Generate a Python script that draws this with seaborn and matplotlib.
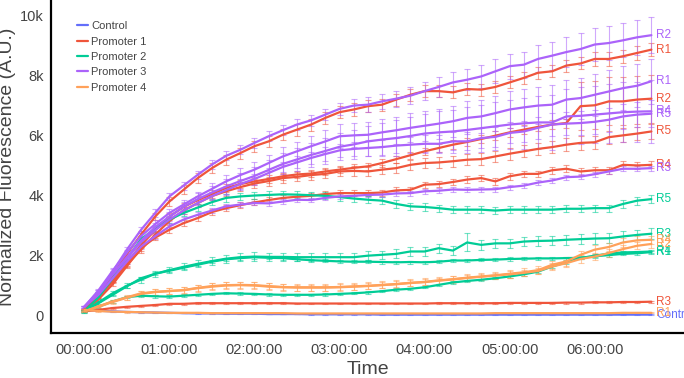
import matplotlib
matplotlib.use("Agg")
import matplotlib.pyplot as plt
import pandas as pd
import seaborn as sns

# sampling grid: one reading every 10 minutes, 0 to 6:40
minutes = list(range(0, 410, 10))
tick_minutes = [0, 60, 120, 180, 240, 300, 360]
tick_labels = ["00:00:00", "01:00:00", "02:00:00", "03:00:00",
               "04:00:00", "05:00:00", "06:00:00"]
y_ticks = [0, 2000, 4000, 6000, 8000, 10000]
y_tick_labels = ["0", "2k", "4k", "6k", "8k", "10k"]

groups = ["Control", "Promoter 1", "Promoter 2", "Promoter 3", "Promoter 4"]
colors = ["#636EFA", "#EF553B", "#00CC96", "#AB63FA", "#FFA15A"]

# mean fluorescence per replicate, in thousands (A.U.)
control = [0.20, 0.17, 0.15, 0.13, 0.12, 0.11, 0.10, 0.09, 0.08, 0.08,
           0.07, 0.07, 0.07, 0.06, 0.06, 0.06, 0.05, 0.05, 0.05, 0.05,
           0.05, 0.04, 0.04, 0.04, 0.04, 0.04, 0.04, 0.04, 0.04, 0.04,
           0.04, 0.04, 0.04, 0.04, 0.04, 0.04, 0.04, 0.04, 0.04, 0.04, 0.04]

p1_r1 = [0.20, 0.70, 1.35, 2.05, 2.70, 3.30, 3.80, 4.19, 4.58, 4.91,
         5.19, 5.41, 5.64, 5.80, 6.02, 6.19, 6.36, 6.58, 6.77, 6.86,
         6.97, 7.02, 7.19, 7.35, 7.47, 7.47, 7.43, 7.54, 7.52, 7.61,
         7.76, 7.91, 8.08, 8.13, 8.32, 8.39, 8.54, 8.54, 8.63, 8.74, 8.85]
p1_r2 = [0.20, 0.65, 1.20, 1.75, 2.35, 2.85, 3.30, 3.62, 3.85, 4.05,
         4.25, 4.38, 4.47, 4.55, 4.64, 4.70, 4.73, 4.80, 4.86, 4.92,
         4.97, 5.08, 5.21, 5.34, 5.47, 5.58, 5.69, 5.78, 5.88, 5.99,
         6.10, 6.19, 6.28, 6.36, 6.41, 6.97, 7.00, 7.13, 7.13, 7.19, 7.22]
p1_r3 = [0.15, 0.20, 0.26, 0.30, 0.33, 0.36, 0.40, 0.40, 0.42, 0.42,
         0.42, 0.42, 0.42, 0.42, 0.42, 0.41, 0.41, 0.41, 0.41, 0.41,
         0.41, 0.41, 0.41, 0.41, 0.41, 0.42, 0.42, 0.42, 0.42, 0.42,
         0.43, 0.43, 0.43, 0.43, 0.44, 0.44, 0.45, 0.45, 0.46, 0.46, 0.47]
p1_r4 = [0.15, 0.55, 1.05, 1.65, 2.25, 2.60, 2.86, 3.08, 3.25, 3.45,
         3.58, 3.68, 3.77, 3.85, 3.92, 3.96, 3.99, 4.05, 4.08, 4.08,
         4.08, 4.10, 4.17, 4.19, 4.36, 4.38, 4.45, 4.53, 4.58, 4.47,
         4.64, 4.72, 4.72, 4.84, 4.89, 4.80, 4.84, 4.84, 5.02, 5.00, 5.02]
p1_r5 = [0.20, 0.62, 1.15, 1.70, 2.20, 2.70, 3.15, 3.50, 3.75, 3.98,
         4.14, 4.28, 4.40, 4.48, 4.58, 4.62, 4.68, 4.72, 4.80, 4.82,
         4.80, 4.86, 4.91, 5.02, 5.08, 5.10, 5.14, 5.19, 5.21, 5.30,
         5.39, 5.47, 5.55, 5.61, 5.69, 5.75, 5.77, 5.94, 6.00, 6.06, 6.13]

p2_r1 = [0.15, 0.42, 0.70, 0.98, 1.25, 1.40, 1.50, 1.60, 1.70, 1.80,
         1.88, 1.92, 1.95, 1.93, 1.92, 1.88, 1.85, 1.83, 1.81, 1.80,
         1.80, 1.79, 1.78, 1.79, 1.78, 1.80, 1.84, 1.84, 1.86, 1.87,
         1.89, 1.90, 1.91, 1.91, 1.92, 1.93, 1.98, 2.02, 2.06, 2.08, 2.12]
p2_r3 = [0.15, 0.45, 0.75, 1.00, 1.20, 1.40, 1.52, 1.63, 1.73, 1.82,
         1.90, 1.95, 1.97, 1.96, 1.96, 1.95, 1.95, 1.95, 1.95, 1.95,
         2.00, 2.03, 2.06, 2.14, 2.14, 2.25, 2.17, 2.44, 2.36, 2.41,
         2.41, 2.47, 2.49, 2.50, 2.53, 2.55, 2.57, 2.58, 2.64, 2.69, 2.73]
p2_r4 = [0.15, 0.30, 0.48, 0.62, 0.67, 0.65, 0.64, 0.67, 0.70, 0.73,
         0.75, 0.74, 0.73, 0.71, 0.70, 0.70, 0.70, 0.71, 0.73, 0.75,
         0.78, 0.82, 0.87, 0.90, 0.95, 1.03, 1.11, 1.16, 1.20, 1.25,
         1.31, 1.38, 1.47, 1.64, 1.78, 1.92, 2.00, 2.07, 2.11, 2.12, 2.14]
p2_r5 = [0.15, 0.62, 1.25, 1.90, 2.55, 2.90, 3.20, 3.42, 3.60, 3.78,
         3.92, 3.97, 4.00, 4.02, 4.04, 4.03, 4.01, 3.99, 3.95, 3.90,
         3.86, 3.83, 3.72, 3.64, 3.62, 3.58, 3.53, 3.53, 3.53, 3.50,
         3.53, 3.53, 3.53, 3.53, 3.56, 3.56, 3.58, 3.58, 3.72, 3.83, 3.88]

p3_r1 = [0.30, 0.85, 1.50, 2.10, 2.65, 3.05, 3.42, 3.70, 3.97, 4.22,
         4.47, 4.68, 4.86, 5.08, 5.30, 5.47, 5.64, 5.80, 5.97, 6.00,
         6.02, 6.10, 6.17, 6.25, 6.32, 6.39, 6.47, 6.58, 6.63, 6.74,
         6.86, 6.93, 6.99, 7.02, 7.19, 7.24, 7.35, 7.46, 7.57, 7.65, 7.80]
p3_r2 = [0.30, 0.75, 1.48, 2.20, 2.86, 3.42, 3.97, 4.33, 4.69, 5.03,
         5.32, 5.52, 5.75, 5.97, 6.17, 6.36, 6.50, 6.69, 6.88, 6.99,
         7.02, 7.13, 7.22, 7.32, 7.47, 7.61, 7.76, 7.85, 7.96, 8.13,
         8.30, 8.35, 8.54, 8.65, 8.77, 8.87, 9.02, 9.07, 9.16, 9.26, 9.33]
p3_r3 = [0.30, 0.70, 1.25, 1.80, 2.30, 2.65, 2.97, 3.20, 3.36, 3.50,
         3.64, 3.70, 3.75, 3.74, 3.80, 3.86, 3.85, 3.92, 3.97, 3.99,
         4.02, 4.03, 4.07, 4.08, 4.14, 4.16, 4.20, 4.19, 4.20, 4.21,
         4.28, 4.33, 4.43, 4.50, 4.61, 4.63, 4.71, 4.80, 4.89, 4.89, 4.91]
p3_r4 = [0.30, 0.80, 1.40, 1.95, 2.50, 2.95, 3.30, 3.62, 3.88, 4.10,
         4.30, 4.48, 4.65, 4.85, 5.05, 5.20, 5.35, 5.48, 5.62, 5.70,
         5.80, 5.86, 5.91, 5.98, 6.06, 6.10, 6.13, 6.18, 6.24, 6.30,
         6.36, 6.40, 6.43, 6.43, 6.63, 6.65, 6.69, 6.73, 6.77, 6.79, 6.80]
p3_r5 = [0.30, 0.80, 1.38, 1.90, 2.45, 2.85, 3.20, 3.50, 3.75, 3.98,
         4.18, 4.38, 4.55, 4.75, 4.95, 5.10, 5.25, 5.38, 5.50, 5.55,
         5.58, 5.61, 5.66, 5.69, 5.72, 5.72, 5.80, 5.80, 5.91, 5.95,
         6.08, 6.13, 6.25, 6.36, 6.39, 6.41, 6.45, 6.52, 6.63, 6.69, 6.72]

p4_r1 = [0.20, 0.16, 0.14, 0.13, 0.12, 0.11, 0.10, 0.10, 0.10, 0.09,
         0.09, 0.09, 0.09, 0.09, 0.09, 0.08, 0.08, 0.08, 0.08, 0.08,
         0.08, 0.08, 0.08, 0.08, 0.08, 0.08, 0.08, 0.08, 0.08, 0.09,
         0.09, 0.09, 0.09, 0.09, 0.09, 0.09, 0.09, 0.09, 0.10, 0.10, 0.10]
p4_r2 = [0.15, 0.30, 0.46, 0.60, 0.73, 0.79, 0.82, 0.86, 0.93, 0.99,
         1.02, 1.03, 1.02, 0.99, 0.96, 0.94, 0.94, 0.94, 0.95, 0.97,
         0.99, 1.02, 1.05, 1.09, 1.12, 1.17, 1.21, 1.26, 1.30, 1.34,
         1.38, 1.43, 1.49, 1.64, 1.75, 1.89, 1.97, 2.09, 2.22, 2.33, 2.39]
p4_r4 = [0.15, 0.32, 0.48, 0.62, 0.75, 0.80, 0.83, 0.85, 0.92, 0.97,
         1.01, 1.02, 1.01, 0.97, 0.95, 0.95, 0.95, 0.95, 0.96, 0.98,
         1.00, 1.03, 1.06, 1.10, 1.13, 1.18, 1.22, 1.27, 1.31, 1.35,
         1.40, 1.45, 1.52, 1.70, 1.81, 2.03, 2.20, 2.29, 2.44, 2.51, 2.53]

# error bar half-lengths, in thousands
control_err = [0.01] * 41
p1_r1_err = [0.02, 0.05, 0.08, 0.10, 0.12, 0.13, 0.14, 0.15, 0.16, 0.17,
             0.17, 0.18, 0.18, 0.19, 0.19, 0.20, 0.20, 0.20, 0.20, 0.20,
             0.20, 0.20, 0.20, 0.20, 0.20, 0.20, 0.20, 0.20, 0.20, 0.20,
             0.20, 0.20, 0.20, 0.20, 0.20, 0.20, 0.22, 0.22, 0.22, 0.22, 0.22]
p1_r2_err = [0.02, 0.05, 0.07, 0.08, 0.10, 0.10, 0.12, 0.12, 0.12, 0.12,
             0.12, 0.12, 0.12, 0.12, 0.12, 0.12, 0.12, 0.12, 0.12, 0.12,
             0.12, 0.12, 0.12, 0.12, 0.12, 0.12, 0.14, 0.14, 0.14, 0.14,
             0.15, 0.15, 0.15, 0.15, 0.15, 0.80, 0.80, 0.80, 0.80, 0.80, 0.80]
p1_r3_err = [0.03] * 41
p1_r4_err = [0.02, 0.04, 0.06, 0.07, 0.08, 0.09, 0.10, 0.10, 0.10, 0.10,
             0.10, 0.10, 0.10, 0.10, 0.10, 0.10, 0.10, 0.10, 0.10, 0.10,
             0.10, 0.10, 0.10, 0.10, 0.10, 0.10, 0.10, 0.11, 0.11, 0.11,
             0.11, 0.11, 0.11, 0.11, 0.11, 0.12, 0.12, 0.12, 0.12, 0.12, 0.12]
p1_r5_err = [0.02, 0.05, 0.07, 0.09, 0.10, 0.11, 0.12, 0.12, 0.13, 0.13,
             0.14, 0.14, 0.14, 0.15, 0.15, 0.15, 0.15, 0.15, 0.16, 0.16,
             0.16, 0.16, 0.17, 0.17, 0.17, 0.18, 0.18, 0.18, 0.19, 0.19,
             0.20, 0.20, 0.20, 0.21, 0.21, 0.22, 0.22, 0.22, 0.23, 0.23, 0.24]
p2_r1_err = [0.05] * 41
p2_r3_err = [0.02, 0.05, 0.07, 0.08, 0.10, 0.10, 0.11, 0.12, 0.12, 0.13,
             0.13, 0.13, 0.14, 0.14, 0.14, 0.14, 0.14, 0.14, 0.14, 0.14,
             0.14, 0.14, 0.15, 0.15, 0.15, 0.15, 0.15, 0.30, 0.16, 0.16,
             0.16, 0.16, 0.16, 0.16, 0.16, 0.17, 0.17, 0.17, 0.17, 0.18, 0.18]
p2_r4_err = [0.04] * 41
p2_r5_err = [0.02, 0.05, 0.07, 0.08, 0.09, 0.10, 0.10, 0.11, 0.11, 0.11,
             0.12, 0.12, 0.12, 0.12, 0.12, 0.12, 0.12, 0.12, 0.12, 0.12,
             0.12, 0.12, 0.12, 0.12, 0.12, 0.12, 0.12, 0.12, 0.12, 0.12,
             0.12, 0.12, 0.12, 0.12, 0.12, 0.12, 0.12, 0.12, 0.13, 0.13, 0.13]
p3_r1_err = [0.03, 0.05, 0.08, 0.10, 0.12, 0.12, 0.14, 0.15, 0.15, 0.18,
             0.20, 0.22, 0.25, 0.28, 0.30, 0.32, 0.35, 0.38, 0.40, 0.40,
             0.42, 0.45, 0.45, 0.48, 0.50, 0.50, 0.52, 0.55, 0.55, 0.58,
             0.60, 0.62, 0.62, 0.65, 0.65, 0.68, 0.70, 0.70, 0.72, 0.72, 0.75]
p3_r2_err = [0.03, 0.05, 0.08, 0.10, 0.10, 0.12, 0.12, 0.13, 0.13, 0.14,
             0.15, 0.15, 0.16, 0.16, 0.17, 0.18, 0.18, 0.19, 0.20, 0.22,
             0.25, 0.26, 0.27, 0.28, 0.30, 0.32, 0.33, 0.35, 0.37, 0.40,
             0.42, 0.43, 0.45, 0.47, 0.50, 0.52, 0.55, 0.56, 0.57, 0.58, 0.60]
p3_r3_err = [0.02, 0.04, 0.05, 0.06, 0.07, 0.08, 0.08, 0.08, 0.08, 0.08,
             0.08, 0.08, 0.08, 0.08, 0.08, 0.08, 0.08, 0.08, 0.08, 0.08,
             0.08, 0.08, 0.08, 0.08, 0.08, 0.08, 0.08, 0.08, 0.08, 0.08,
             0.08, 0.08, 0.08, 0.08, 0.08, 0.08, 0.08, 0.08, 0.08, 0.08, 0.08]
p3_r4_err = [0.03, 0.05, 0.08, 0.10, 0.12, 0.14, 0.15, 0.17, 0.20, 0.22,
             0.25, 0.28, 0.30, 0.33, 0.35, 0.38, 0.40, 0.42, 0.45, 0.48,
             0.50, 0.55, 0.60, 0.62, 0.65, 0.70, 0.72, 0.75, 0.78, 0.80,
             0.82, 0.85, 0.88, 0.90, 0.92, 0.95, 0.95, 0.98, 1.00, 1.00, 1.05]
p3_r5_err = [0.03, 0.05, 0.07, 0.08, 0.10, 0.10, 0.12, 0.12, 0.13, 0.14,
             0.15, 0.16, 0.17, 0.18, 0.18, 0.20, 0.20, 0.22, 0.22, 0.24,
             0.25, 0.25, 0.26, 0.27, 0.28, 0.28, 0.30, 0.30, 0.32, 0.33,
             0.35, 0.35, 0.36, 0.37, 0.38, 0.40, 0.40, 0.40, 0.42, 0.42, 0.45]
p4_r1_err = [0.02] * 41
p4_r2_err = [0.02, 0.04, 0.06, 0.07, 0.08, 0.09, 0.10, 0.10, 0.10, 0.10,
             0.10, 0.10, 0.10, 0.10, 0.10, 0.10, 0.10, 0.10, 0.10, 0.10,
             0.10, 0.10, 0.10, 0.10, 0.10, 0.10, 0.10, 0.10, 0.10, 0.10,
             0.11, 0.11, 0.11, 0.11, 0.12, 0.12, 0.12, 0.12, 0.12, 0.12, 0.12]
p4_r4_err = [0.02, 0.04, 0.06, 0.08, 0.09, 0.10, 0.11, 0.11, 0.12, 0.12,
             0.12, 0.12, 0.12, 0.12, 0.12, 0.12, 0.12, 0.12, 0.12, 0.12,
             0.12, 0.12, 0.12, 0.12, 0.12, 0.12, 0.12, 0.12, 0.12, 0.12,
             0.13, 0.13, 0.13, 0.13, 0.14, 0.14, 0.14, 0.14, 0.14, 0.14, 0.14]

traces = [
    ("Control", "Control", control, control_err),
    ("Promoter 1", "R1", p1_r1, p1_r1_err),
    ("Promoter 1", "R2", p1_r2, p1_r2_err),
    ("Promoter 1", "R3", p1_r3, p1_r3_err),
    ("Promoter 1", "R4", p1_r4, p1_r4_err),
    ("Promoter 1", "R5", p1_r5, p1_r5_err),
    ("Promoter 2", "R1", p2_r1, p2_r1_err),
    ("Promoter 2", "R3", p2_r3, p2_r3_err),
    ("Promoter 2", "R4", p2_r4, p2_r4_err),
    ("Promoter 2", "R5", p2_r5, p2_r5_err),
    ("Promoter 3", "R1", p3_r1, p3_r1_err),
    ("Promoter 3", "R2", p3_r2, p3_r2_err),
    ("Promoter 3", "R3", p3_r3, p3_r3_err),
    ("Promoter 3", "R4", p3_r4, p3_r4_err),
    ("Promoter 3", "R5", p3_r5, p3_r5_err),
    ("Promoter 4", "R1", p4_r1, p4_r1_err),
    ("Promoter 4", "R2", p4_r2, p4_r2_err),
    ("Promoter 4", "R4", p4_r4, p4_r4_err),
]

rows = []
for group, rep, vals, errs in traces:
    for m, v, e in zip(minutes, vals, errs):
        rows.append({"minute": m, "value": v * 1000, "err": e * 1000,
                     "group": group, "trace": group + " " + rep})
df = pd.DataFrame(rows)

sns.set_style("white")
plt.rcParams["font.family"] = ["Liberation Sans", "DejaVu Sans"]
palette = dict(zip(groups, colors))

fig = plt.figure(figsize=(6.84, 3.78), dpi=100)
ax = fig.add_axes([51 / 684, 45 / 378, 633 / 684, 333 / 378])

# error bars underneath the lines
for group, rep, vals, errs in traces:
    sub = df[df["trace"] == group + " " + rep]
    ax.errorbar(sub["minute"], sub["value"], yerr=sub["err"], fmt="none",
                ecolor=palette[group], elinewidth=0.8, capsize=2,
                capthick=0.8, alpha=0.55, zorder=2)

sns.lineplot(data=df, x="minute", y="value", hue="group", hue_order=groups,
             units="trace", estimator=None, palette=palette, linewidth=1.6,
             ax=ax, zorder=3)

# replicate name at the end of each line
for group, rep, vals, errs in traces:
    sub = df[df["trace"] == group + " " + rep]
    ax.annotate(rep, xy=(sub["minute"].iloc[-1], sub["value"].iloc[-1]),
                xytext=(3.5, 0), textcoords="offset points", va="center",
                ha="left", color=palette[group], fontsize=8.5,
                annotation_clip=False, zorder=4)

ax.set_xlim(-23.5, 423)
ax.set_ylim(-570, 10500)
ax.set_xticks(tick_minutes)
ax.set_xticklabels(tick_labels)
ax.set_yticks(y_ticks)
ax.set_yticklabels(y_tick_labels)
ax.set_xlabel("Time", fontsize=14, color="#444444", labelpad=3)
ax.set_ylabel("Normalized Fluorescence (A.U.)", fontsize=14,
              color="#444444", labelpad=3)
ax.tick_params(axis="both", labelsize=10.5, labelcolor="#444444",
               length=3, width=0.8, color="#666666")
ax.tick_params(axis="x", pad=4)
ax.tick_params(axis="y", pad=2)
sns.despine(ax=ax)
for side in ["left", "bottom"]:
    ax.spines[side].set_color("black")
    ax.spines[side].set_linewidth(1.6)

sns.move_legend(ax, "upper left", bbox_to_anchor=(0.041, 0.936),
                frameon=False, title=None, fontsize=8, handlelength=1.0,
                handletextpad=0.3, labelspacing=0.48, borderaxespad=0,
                borderpad=0)
for t in ax.get_legend().get_texts():
    t.set_color("#444444")

fig.savefig("out.png", dpi=100)
plt.close(fig)
